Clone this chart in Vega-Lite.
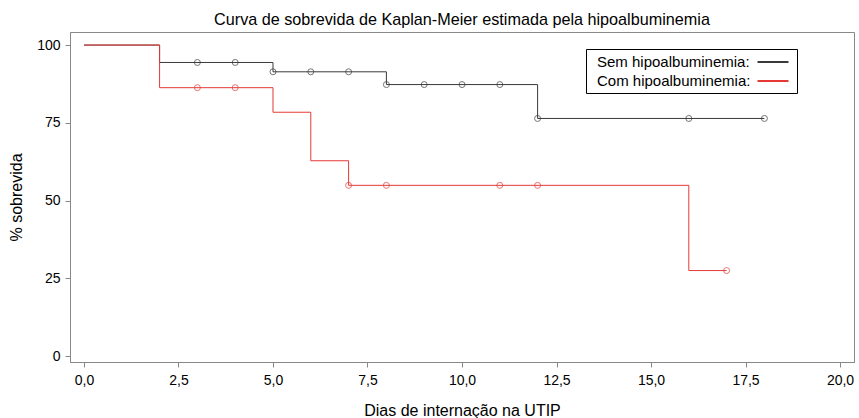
{
  "$schema": "https://vega.github.io/schema/vega-lite/v6.json",
  "width": 784,
  "height": 330,
  "autosize": {"type": "none"},
  "padding": {"left": 70, "top": 32, "right": 5, "bottom": 56},
  "title": {
    "text": "Curva de sobrevida de Kaplan-Meier estimada pela hipoalbuminemia",
    "fontSize": 16.2, "fontWeight": "normal", "font": "Liberation Sans", "color": "black",
    "anchor": "middle", "offset": 4
  },
  "config": {
    "font": "Liberation Sans",
    "view": {"stroke": "#888888", "strokeWidth": 1},
    "axis": {
      "grid": false, "domainColor": "#888888", "tickColor": "#888888", "tickSize": 5,
      "labelFontSize": 14, "labelColor": "black", "titleFontSize": 16, "titleFontWeight": "normal", "titleColor": "black",
      "labelFont": "Liberation Sans", "titleFont": "Liberation Sans"
    }
  },
  "datasets": {
    "curves": [
      {"grupo": "Sem hipoalbuminemia:", "dia": 0, "sobrevida": 100},
      {"grupo": "Sem hipoalbuminemia:", "dia": 2, "sobrevida": 94.4},
      {"grupo": "Sem hipoalbuminemia:", "dia": 5, "sobrevida": 91.4},
      {"grupo": "Sem hipoalbuminemia:", "dia": 8, "sobrevida": 87.3},
      {"grupo": "Sem hipoalbuminemia:", "dia": 12, "sobrevida": 76.4},
      {"grupo": "Sem hipoalbuminemia:", "dia": 18, "sobrevida": 76.4},
      {"grupo": "Com hipoalbuminemia:", "dia": 0, "sobrevida": 100},
      {"grupo": "Com hipoalbuminemia:", "dia": 2, "sobrevida": 86.3},
      {"grupo": "Com hipoalbuminemia:", "dia": 5, "sobrevida": 78.4},
      {"grupo": "Com hipoalbuminemia:", "dia": 6, "sobrevida": 62.8},
      {"grupo": "Com hipoalbuminemia:", "dia": 7, "sobrevida": 54.9},
      {"grupo": "Com hipoalbuminemia:", "dia": 16, "sobrevida": 27.5},
      {"grupo": "Com hipoalbuminemia:", "dia": 17, "sobrevida": 27.5}
    ],
    "censors": [
      {"grupo": "Sem hipoalbuminemia:", "dia": 3, "sobrevida": 94.4},
      {"grupo": "Sem hipoalbuminemia:", "dia": 4, "sobrevida": 94.4},
      {"grupo": "Sem hipoalbuminemia:", "dia": 5, "sobrevida": 91.4},
      {"grupo": "Sem hipoalbuminemia:", "dia": 6, "sobrevida": 91.4},
      {"grupo": "Sem hipoalbuminemia:", "dia": 7, "sobrevida": 91.4},
      {"grupo": "Sem hipoalbuminemia:", "dia": 8, "sobrevida": 87.3},
      {"grupo": "Sem hipoalbuminemia:", "dia": 9, "sobrevida": 87.3},
      {"grupo": "Sem hipoalbuminemia:", "dia": 10, "sobrevida": 87.3},
      {"grupo": "Sem hipoalbuminemia:", "dia": 11, "sobrevida": 87.3},
      {"grupo": "Sem hipoalbuminemia:", "dia": 12, "sobrevida": 76.4},
      {"grupo": "Sem hipoalbuminemia:", "dia": 16, "sobrevida": 76.4},
      {"grupo": "Sem hipoalbuminemia:", "dia": 18, "sobrevida": 76.4},
      {"grupo": "Com hipoalbuminemia:", "dia": 3, "sobrevida": 86.3},
      {"grupo": "Com hipoalbuminemia:", "dia": 4, "sobrevida": 86.3},
      {"grupo": "Com hipoalbuminemia:", "dia": 7, "sobrevida": 54.9},
      {"grupo": "Com hipoalbuminemia:", "dia": 8, "sobrevida": 54.9},
      {"grupo": "Com hipoalbuminemia:", "dia": 11, "sobrevida": 54.9},
      {"grupo": "Com hipoalbuminemia:", "dia": 12, "sobrevida": 54.9},
      {"grupo": "Com hipoalbuminemia:", "dia": 17, "sobrevida": 27.5}
    ]
  },
  "encoding": {
    "x": {
      "field": "dia", "type": "quantitative",
      "scale": {"domain": [-0.37, 20.37], "nice": false, "zero": false},
      "axis": {
        "title": "Dias de internação na UTIP", "values": [0, 2.5, 5, 7.5, 10, 12.5, 15, 17.5, 20],
        "labelExpr": "replace(format(datum.value, '.1f'), '.', ',')",
        "labelPadding": 6, "titlePadding": 15, "labelFlush": false
      }
    },
    "y": {
      "field": "sobrevida", "type": "quantitative",
      "scale": {"domain": [-1.9, 104.2], "nice": false, "zero": false},
      "axis": {
        "title": "% sobrevida", "values": [0, 25, 50, 75, 100],
        "labelPadding": 5, "titlePadding": 12
      }
    },
    "color": {
      "field": "grupo", "type": "nominal",
      "scale": {"domain": ["Sem hipoalbuminemia:", "Com hipoalbuminemia:"], "range": ["#3a3a3a", "#e53935"]},
      "legend": null
    }
  },
  "layer": [
    {
      "data": {"name": "curves"},
      "mark": {"type": "line", "interpolate": "step-after", "strokeWidth": 1},
      "encoding": {
        "color": {
          "field": "grupo", "type": "nominal",
          "scale": {"domain": ["Sem hipoalbuminemia:", "Com hipoalbuminemia:"], "range": ["#3a3a3a", "#e53935"]},
          "legend": {
            "title": null, "orient": "none", "legendX": 516, "legendY": 17,
            "symbolType": "M-2,0H2", "symbolSize": 240, "symbolStrokeWidth": 2, "symbolFillColor": "transparent",
            "labelFontSize": 15, "labelColor": "black", "labelFont": "Liberation Sans",
            "labelOffset": 22,
            "strokeColor": "black", "fillColor": "white", "padding": 4, "rowPadding": 2,
            "encode": {
              "symbols": {"update": {"x": {"value": 183}, "stroke": {"signal": "datum.value === 'Sem hipoalbuminemia:' ? 'black' : 'red'"}}},
              "labels": {"update": {"x": {"value": 7}}}
            }
          }
        }
      }
    },
    {
      "data": {"name": "censors"},
      "mark": {"type": "point", "shape": "circle", "filled": false, "size": 36, "strokeWidth": 1}
    }
  ]
}
